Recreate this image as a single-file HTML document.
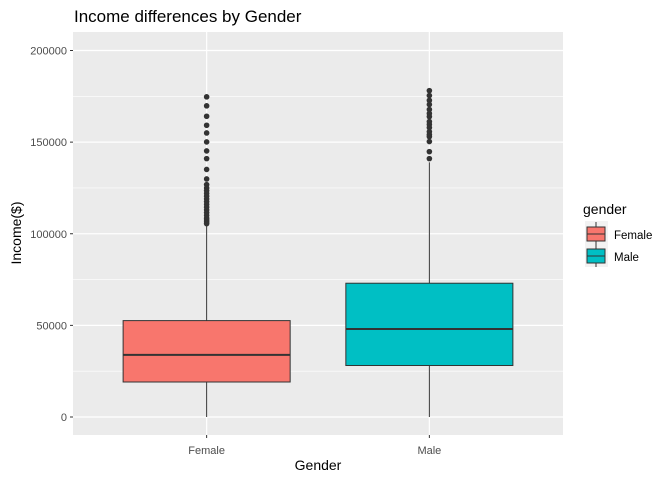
<!DOCTYPE html>
<html><head><meta charset="utf-8"><style>
body{margin:0;background:#fff;}
svg{display:block;font-family:"Liberation Sans",Arial,sans-serif;}
</style></head><body>
<svg id="chart" width="672" height="480" viewBox="0 0 672 480" xmlns="http://www.w3.org/2000/svg">
<rect width="672" height="480" fill="#fff"/>
<text x="74" y="22" font-size="17" fill="#000">Income differences by Gender</text>
<rect x="73" y="32" width="490" height="403" fill="#ebebeb"/>
<g id="grid"></g>
<g id="marks"></g>
<g id="axes"></g>
<text x="318" y="470" font-size="14" text-anchor="middle" fill="#000">Gender</text>
<text transform="translate(21,233) rotate(-90)" font-size="14" text-anchor="middle" fill="#000">Income($)</text>
<g>
<text x="583" y="214" font-size="14" fill="#000">gender</text>
<rect x="585" y="221" width="23" height="46" fill="#f2f2f2"/>
<g>
<line x1="596" y1="222" x2="596" y2="246" stroke="#333" stroke-width="1"/>
<rect x="587" y="227" width="18" height="14" fill="#F8766D" stroke="#333"/>
<line x1="587" y1="234" x2="605" y2="234" stroke="#333"/>
<text x="614" y="239" font-size="11.5" fill="#000">Female</text></g>
<g>
<line x1="596" y1="245" x2="596" y2="267" stroke="#333" stroke-width="1"/>
<rect x="587" y="249" width="18" height="14" fill="#00BFC4" stroke="#333"/>
<line x1="587" y1="256" x2="605" y2="256" stroke="#333"/>
<text x="614" y="261" font-size="11.5" fill="#000">Male</text></g>
</g>
</svg>
<script>
const categories=["Female","Male"];
const fills=["#F8766D","#00BFC4"];
const lowerWhisker=[0,0];
const q1=[19100,28100];
const median=[33900,48000];
const q3=[52600,73000];
const upperWhisker=[105000,139000];
const femaleOutliers=[174700,169800,164100,159200,155000,150100,145200,141000,135100,129900,126800,125000,123500,122000,120500,119000,117500,116000,114500,113000,111500,110000,108500,107500,106500,105500];
const maleOutliers=[178100,175400,172800,170500,167800,165600,163900,161200,159600,157900,155700,154100,153000,150300,144800,141000];
const outliers=[femaleOutliers,maleOutliers];
const yTicks=[0,50000,100000,150000,200000];
const yTickLabels=["0","50000","100000","150000","200000"];

const NS="http://www.w3.org/2000/svg";
const P={l:73,t:32,r:563,b:435};
function y(v){return 417-v*(366.5/200000);}
const unit=(P.r-P.l)/(categories.length+0.2);
function x(i){return P.l+(i+0.6)*unit;}
const bw=0.75*unit;
function mk(tag,attrs,parent){const e=document.createElementNS(NS,tag);for(const k in attrs)e.setAttribute(k,attrs[k]);parent.appendChild(e);return e;}
const grid=document.getElementById('grid'),marks=document.getElementById('marks'),axes=document.getElementById('axes');
// minor gridlines
for(let i=0;i<yTicks.length-1;i++){const v=(yTicks[i]+yTicks[i+1])/2;
const g=mk('line',{x1:P.l,x2:P.r,y1:y(v),y2:y(v),stroke:'#fff','stroke-width':0.6},grid);

}
yTicks.forEach((v,i)=>{
const g=mk('line',{x1:P.l,x2:P.r,y1:y(v),y2:y(v),stroke:'#fff','stroke-width':1.2},grid);


const t=mk('line',{x1:P.l-3,x2:P.l,y1:y(v),y2:y(v),stroke:'#333'},axes);


const l=mk('text',{x:P.l-6,y:y(v)+4,'font-size':11,'text-anchor':'end',fill:'#4d4d4d'},axes);
l.textContent=yTickLabels[i];


});
categories.forEach((c,i)=>{
const cx=x(i);
const g=mk('line',{x1:cx,x2:cx,y1:P.t,y2:P.b,stroke:'#fff','stroke-width':1.2},grid);


const t=mk('line',{x1:cx,x2:cx,y1:P.b,y2:P.b+3,stroke:'#333'},axes);


const l=mk('text',{x:cx,y:P.b+19,'font-size':11,'text-anchor':'middle',fill:'#4d4d4d'},axes);
l.textContent=c;


const grp=mk('g',{},marks);


mk('line',{x1:cx,x2:cx,y1:y(upperWhisker[i]),y2:y(q3[i]),stroke:'#333'},grp);
mk('line',{x1:cx,x2:cx,y1:y(q1[i]),y2:y(lowerWhisker[i]),stroke:'#333'},grp);
mk('rect',{x:cx-bw/2,y:y(q3[i]),width:bw,height:y(q1[i])-y(q3[i]),fill:fills[i],stroke:'#333','stroke-width':1},grp);
mk('line',{x1:cx-bw/2,x2:cx+bw/2,y1:y(median[i]),y2:y(median[i]),stroke:'#333','stroke-width':2},grp);
outliers[i].forEach(v=>{
const p=mk('circle',{cx:cx,cy:y(v),r:2.8,fill:'#333'},marks);


});
});
</script>
</body></html>
